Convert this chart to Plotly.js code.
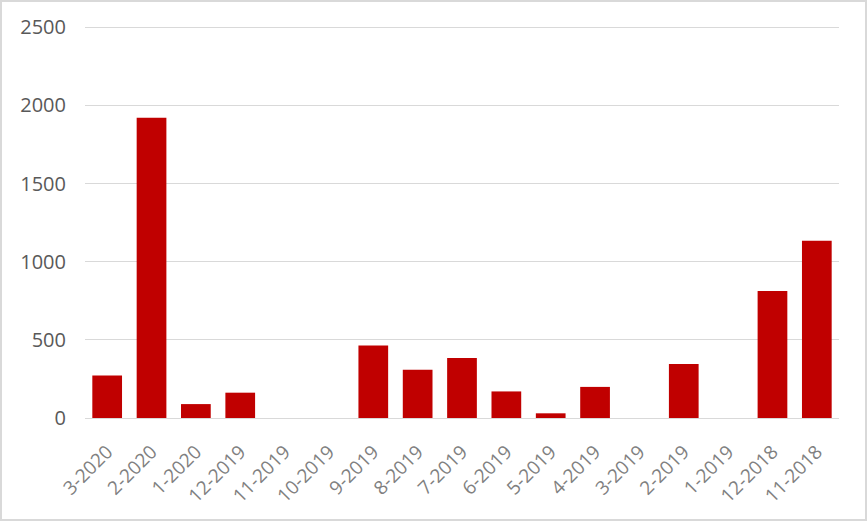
<!DOCTYPE html>
<html>
<head>
<meta charset="utf-8">
<script src="https://cdn.plot.ly/plotly-3.0.1.min.js"></script>
<style>
  html, body { margin: 0; padding: 0; background: #fff; }
  #wrap { position: relative; width: 867px; height: 521px; }
  #wrap::after { content: ''; position: absolute; left: 0; top: 0; right: 0; bottom: 0;
    border: 2px solid #d9d9d9; pointer-events: none; }
  #chart { width: 867px; height: 521px; }
</style>
</head>
<body>
<div id="wrap"><div id="chart"></div></div>
<script>
// months, newest first, as in the source chart
const months = ['3-2020', '2-2020', '1-2020', '12-2019', '11-2019', '10-2019', '9-2019', '8-2019',
  '7-2019', '6-2019', '5-2019', '4-2019', '3-2019', '2-2019', '1-2019', '12-2018', '11-2018'];
const counts = [272, 1921, 89, 162, 0, 0, 464, 309, 384, 170, 30, 199, 0, 346, 0, 812, 1134];
const yTicks = [0, 500, 1000, 1500, 2000, 2500];

Plotly.newPlot('chart', [{
  x: months,
  y: counts,
  type: 'bar',
  marker: { color: '#c00000' },
  hoverinfo: 'x+y'
}], {
  width: 867,
  height: 521,
  margin: { l: 85, r: 28, t: 26, b: 103 },
  paper_bgcolor: '#fff',
  plot_bgcolor: '#fff',
  bargap: 0.33,
  showlegend: false,
  font: { family: '"Open Sans", "Noto Sans", sans-serif' },
  xaxis: {
    type: 'category',
    tickangle: -45,
    tickfont: { size: 19, color: '#808080' },
    showgrid: false,
    showline: false,
    ticks: '',
    ticklabelstandoff: 18
  },
  yaxis: {
    range: [0, 2508],
    tickvals: yTicks,
    tickfont: { size: 20, color: '#595959' },
    showgrid: true,
    gridcolor: '#d9d9d9',
    gridwidth: 1,
    zeroline: true,
    zerolinecolor: '#d9d9d9',
    zerolinewidth: 1,
    ticks: '',
    ticklabelstandoff: 18
  }
}, { displayModeBar: false, staticPlot: true });
</script>
</body>
</html>
